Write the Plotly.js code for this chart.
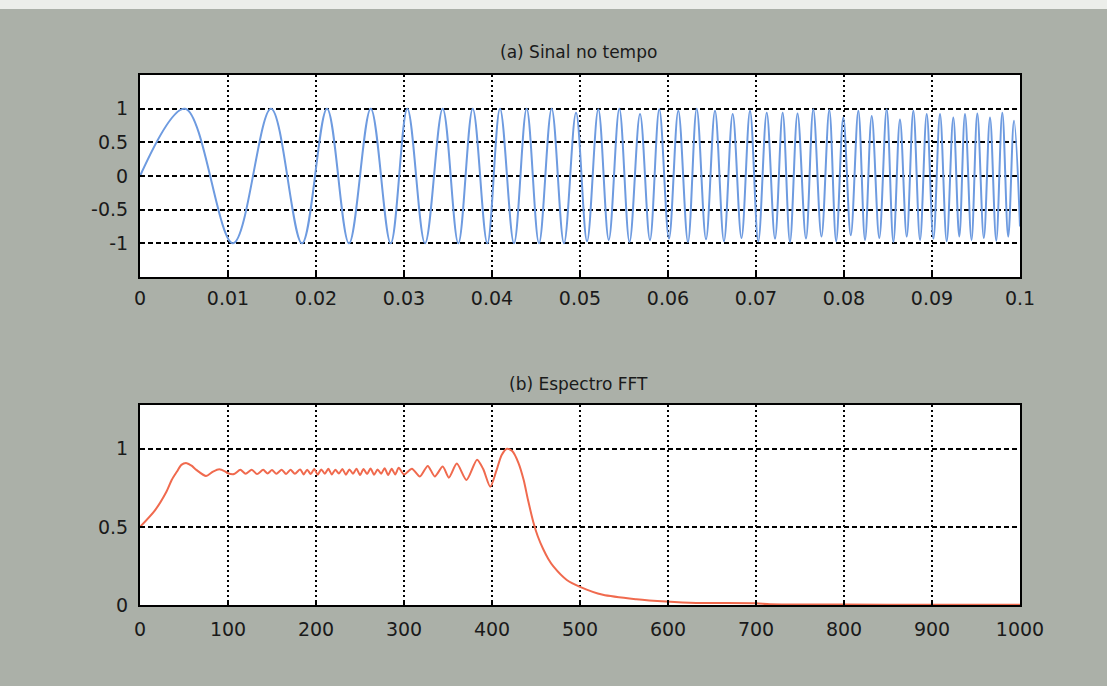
<!DOCTYPE html>
<html>
<head>
<meta charset="utf-8">
<script src="https://cdn.plot.ly/plotly-3.0.1.min.js"></script>
<style>
  html, body { margin: 0; padding: 0; background: #abb0a8; }
  #chart { width: 1107px; height: 686px; }
</style>
</head>
<body>
<div id="chart"></div>
<script>
// ---------- (a) Sinal no tempo : extrema of the chirp ----------
const signalTime = [
  0, 0.00511, 0.01057, 0.01489, 0.01841, 0.02125, 0.02375, 0.02622, 0.02849, 0.03038,
  0.03239, 0.03440, 0.03617, 0.03781, 0.03947, 0.04091, 0.04250, 0.04394, 0.04534, 0.04678,
  0.04818, 0.04955, 0.05080, 0.05208, 0.05327, 0.05447, 0.05563, 0.05682, 0.05795, 0.05901,
  0.06011, 0.06117, 0.06227, 0.06326, 0.06432, 0.06534, 0.06636, 0.06735, 0.06835, 0.06932,
  0.07026, 0.07122, 0.07216, 0.07303, 0.07386, 0.07472, 0.07568, 0.07651, 0.07744, 0.07833,
  0.07911, 0.07992, 0.08077, 0.08163, 0.08239, 0.08315, 0.08401, 0.08485, 0.08561, 0.08636,
  0.08713, 0.08788, 0.08864, 0.08940, 0.09016, 0.09091, 0.09167, 0.09242, 0.09310, 0.09375,
  0.09449, 0.09515, 0.09589, 0.09659, 0.09730, 0.09799, 0.09866, 0.09932, 0.1
];
const signalValue = [
  0, 1, -1, 1, -1, 1, -1, 1, -1, 1,
  -1, 1, -1, 1, -1, 1, -1, 1, -1, 1,
  -1, 0.94, -0.97, 0.99, -0.95, 1, -0.98, 0.92, -0.95, 0.99,
  -0.93, 0.97, -0.98, 1, -0.94, 0.97, -0.97, 0.92, -0.92, 0.97,
  -0.97, 0.94, -0.93, 0.94, -0.98, 0.93, -0.93, 0.99, -0.90, 0.98,
  -0.97, 0.87, -0.88, 0.97, -0.95, 0.89, -0.92, 0.99, -0.98, 0.84,
  -0.90, 0.97, -0.95, 0.92, -0.93, 0.92, -0.97, 0.87, -0.90, 0.92,
  -0.95, 0.93, -0.92, 0.87, -0.96, 0.94, -0.90, 0.82, -0.75
];
const topXTicks = [0, 0.01, 0.02, 0.03, 0.04, 0.05, 0.06, 0.07, 0.08, 0.09, 0.1];
const topXLabels = ["0", "0.01", "0.02", "0.03", "0.04", "0.05", "0.06", "0.07", "0.08", "0.09", "0.1"];
const topYTicks = [-1, -0.5, 0, 0.5, 1];
const topYLabels = ["-1", "-0.5", "0", "0.5", "1"];

// ---------- (b) Espectro FFT : magnitude ----------
const spectrumFreq = [
  0, 17, 30, 36, 42, 47, 53, 59, 64, 75, 83, 90, 97, 100,
  107, 114, 120, 127, 133, 140, 145, 150, 155, 161, 166, 171, 176, 182,
  186, 190, 194, 198, 202, 206, 210, 214, 218, 222, 226, 230, 234, 238,
  242, 246, 250, 254, 258, 262, 266, 270, 274, 278, 282, 286, 290, 294,
  300, 309, 318, 327, 335, 344, 351, 360, 371, 383, 390, 398, 405, 411,
  417, 423, 430, 436, 441, 447, 452, 458, 464, 470, 485, 500, 526, 564,
  598, 632, 700, 716, 800, 900, 1000
];
const spectrumMag = [
  0.50, 0.606, 0.725, 0.80, 0.854, 0.897, 0.908, 0.89, 0.865, 0.826, 0.854, 0.869, 0.854, 0.843,
  0.838, 0.865, 0.84, 0.866, 0.838, 0.865, 0.842, 0.864, 0.84, 0.866, 0.838, 0.865, 0.84, 0.868,
  0.836, 0.866, 0.838, 0.87, 0.834, 0.868, 0.84, 0.872, 0.836, 0.866, 0.842, 0.87, 0.834, 0.868,
  0.84, 0.872, 0.832, 0.87, 0.838, 0.874, 0.834, 0.868, 0.84, 0.876, 0.832, 0.872, 0.836, 0.878,
  0.835, 0.872, 0.822, 0.89, 0.823, 0.886, 0.815, 0.905, 0.80, 0.93, 0.87, 0.757, 0.86, 0.96,
  1.0, 0.985, 0.91, 0.80, 0.67, 0.53, 0.44, 0.36, 0.295, 0.245, 0.16, 0.116, 0.065, 0.037,
  0.022, 0.013, 0.011, 0.005, 0.003, 0.002, 0.002
];
const botXTicks = [0, 100, 200, 300, 400, 500, 600, 700, 800, 900, 1000];
const botXLabels = ["0", "100", "200", "300", "400", "500", "600", "700", "800", "900", "1000"];
const botYTicks = [0, 0.5, 1];
const botYLabels = ["0", "0.5", "1"];

const titleA = "(a) Sinal no tempo";
const titleB = "(b) Espectro FFT";

// ---------- layout helpers ----------
const W = 1107, H = 686;
const px = v => v / W;
const py = v => 1 - v / H;
const tickFont = { family: "DejaVu Sans, sans-serif", size: 19, color: "#1a1a1a" };

const commonAxis = {
  showline: true, linecolor: "#000", linewidth: 2, mirror: true,
  ticks: "inside", ticklen: 5, tickwidth: 1.5, tickcolor: "#000",
  showgrid: true, gridcolor: "#000", gridwidth: 2,
  zeroline: false, tickfont: tickFont, fixedrange: true
};

const traces = [
  {
    x: signalTime, y: signalValue, type: "scatter", mode: "lines",
    line: { color: "#6e9be0", width: 2, shape: "spline", smoothing: 1 },
    xaxis: "x", yaxis: "y", hoverinfo: "skip"
  },
  {
    x: spectrumFreq, y: spectrumMag, type: "scatter", mode: "lines",
    line: { color: "#f06a4e", width: 2, shape: "spline", smoothing: 0.7 },
    xaxis: "x2", yaxis: "y2", hoverinfo: "skip"
  }
];

const layout = {
  width: W, height: H,
  margin: { l: 0, r: 0, t: 0, b: 0 },
  paper_bgcolor: "#abb0a8",
  plot_bgcolor: "#ffffff",
  showlegend: false,
  xaxis: Object.assign({}, commonAxis, {
    domain: [px(140), px(1020)], range: [0, 0.1], anchor: "y",
    tickmode: "array", tickvals: topXTicks, ticktext: topXLabels,
    griddash: "2px,3px", ticklabelstandoff: 3
  }),
  yaxis: Object.assign({}, commonAxis, {
    domain: [py(277), py(75)], range: [-1.5, 1.5], anchor: "x",
    tickmode: "array", tickvals: topYTicks, ticktext: topYLabels,
    griddash: "5px,3px", ticklabelstandoff: 6
  }),
  xaxis2: Object.assign({}, commonAxis, {
    domain: [px(140), px(1020)], range: [0, 1000], anchor: "y2",
    tickmode: "array", tickvals: botXTicks, ticktext: botXLabels,
    griddash: "2px,3px", ticklabelstandoff: 6
  }),
  yaxis2: Object.assign({}, commonAxis, {
    domain: [py(605), py(405)], range: [0, 1.28], anchor: "x2",
    tickmode: "array", tickvals: botYTicks, ticktext: botYLabels,
    griddash: "5px,3px", ticklabelstandoff: 6
  }),
  annotations: [
    { text: titleA, xref: "paper", yref: "paper", x: px(578), y: py(52),
      xanchor: "center", yanchor: "middle", showarrow: false,
      font: { family: "DejaVu Sans, sans-serif", size: 17, color: "#1a1a1a" } },
    { text: titleB, xref: "paper", yref: "paper", x: px(578), y: py(384),
      xanchor: "center", yanchor: "middle", showarrow: false,
      font: { family: "DejaVu Sans, sans-serif", size: 17, color: "#1a1a1a" } }
  ],
  shapes: [
    { type: "rect", xref: "paper", yref: "paper", x0: 0, x1: 1, y0: py(9), y1: 1,
      fillcolor: "#eceeea", line: { width: 0 }, layer: "below" }
  ]
};

Plotly.newPlot("chart", traces, layout, { displayModeBar: false, staticPlot: true });
</script>
</body>
</html>
